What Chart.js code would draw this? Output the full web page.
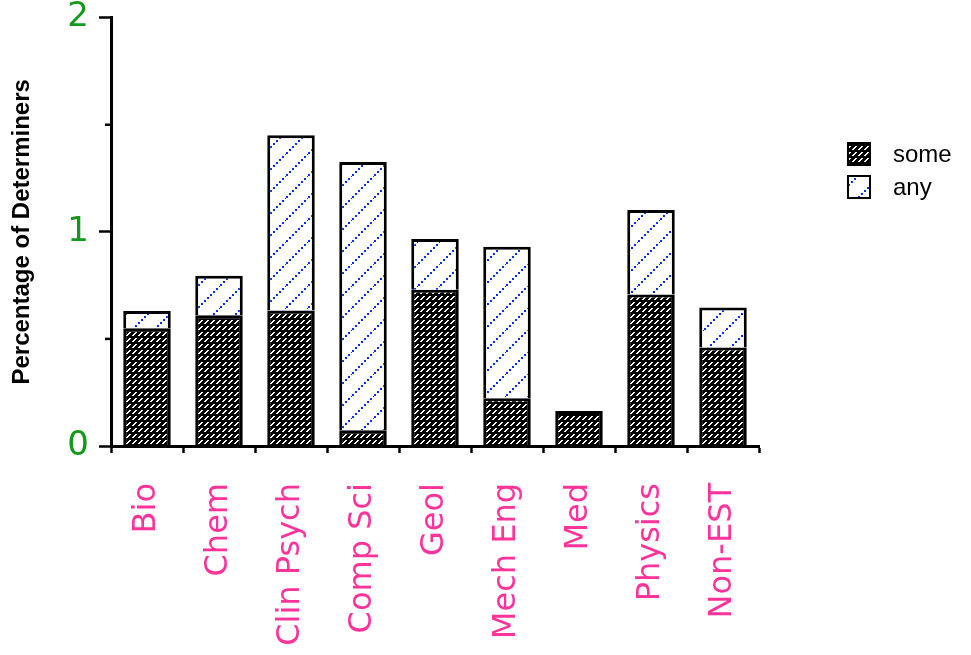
<!DOCTYPE html>
<html lang="en">
<head>
  <meta charset="UTF-8">
  <title>Percentage of Determiners</title>
  <script src="https://cdn.jsdelivr.net/npm/chart.js"></script>
  <style>
    html, body { margin: 0; padding: 0; background: #fff; }
    #wrap { width: 971px; height: 655px; }
  </style>
</head>
<body>
  <div id="wrap"><canvas id="detChart" width="971" height="655"></canvas></div>

  <script>
    // data
    const fields = ['Bio', 'Chem', 'Clin Psych', 'Comp Sci', 'Geol', 'Mech Eng', 'Med', 'Physics', 'Non-EST'];
    const someValues = [0.55, 0.61, 0.633, 0.074, 0.73, 0.223, 0.163, 0.707, 0.46];
    const anyValues = [0.08, 0.185, 0.818, 1.252, 0.237, 0.707, 0, 0.395, 0.187];
    const yTickLabels = ['0', '1', '2'];

    // hatch fills
    function somePattern() {
      const c = document.createElement('canvas');
      c.width = 6; c.height = 6;
      const g = c.getContext('2d');
      g.fillStyle = '#000';
      g.fillRect(0, 0, 6, 6);
      g.fillStyle = '#fff';
      g.fillRect(0, 5, 2, 1);
      g.fillRect(1, 4, 2, 1);
      g.fillRect(2, 3, 2, 1);
      g.fillRect(3, 2, 2, 1);
      return g.createPattern(c, 'repeat');
    }
    function anyPattern() {
      const n = 22;
      const c = document.createElement('canvas');
      c.width = n; c.height = n;
      const g = c.getContext('2d');
      g.fillStyle = '#fff';
      g.fillRect(0, 0, n, n);
      g.fillStyle = '#0a2ef0';
      for (let i = 0; i < n; i += 3) {
        g.fillRect(i, n - 2 - i, 2, 2);
      }
      return g.createPattern(c, 'repeat');
    }

    // minor ticks at the half values, and the legend at the right
    const extras = {
      id: 'extras',
      afterDraw(chart) {
        const ctx = chart.ctx;
        const y = chart.scales.y;
        ctx.save();
        ctx.strokeStyle = '#000';
        ctx.lineWidth = 2.5;
        [0.5, 1.5].forEach(v => {
          const py = y.getPixelForValue(v);
          ctx.beginPath();
          ctx.moveTo(y.right - 6, py);
          ctx.lineTo(y.right, py);
          ctx.stroke();
        });
        chart.data.datasets.forEach((ds, i) => {
          const bx = 848, by = 143 + i * 33;
          ctx.fillStyle = ds.backgroundColor;
          ctx.fillRect(bx, by, 22, 22);
          ctx.lineWidth = 2;
          ctx.strokeRect(bx, by, 22, 22);
          ctx.fillStyle = '#000';
          ctx.font = '24px "Liberation Sans", Arial, sans-serif';
          ctx.textBaseline = 'middle';
          ctx.fillText(ds.label, 893, by + 12);
        });
        ctx.restore();
      }
    };

    const ctx = document.getElementById('detChart').getContext('2d');
    new Chart(ctx, {
      type: 'bar',
      data: {
        labels: fields,
        datasets: [{
          label: 'some',
          data: someValues,
          backgroundColor: somePattern(),
          borderColor: '#000',
          borderWidth: 3
        }, {
          label: 'any',
          data: anyValues,
          backgroundColor: anyPattern(),
          borderColor: '#000',
          borderWidth: 3
        }]
      },
      options: {
        responsive: false,
        animation: false,
        events: [],
        categoryPercentage: 1,
        barPercentage: 0.66,
        layout: { padding: { top: 16, right: 212, bottom: 0, left: 0 } },
        plugins: {
          legend: { display: false },
          tooltip: { enabled: false }
        },
        scales: {
          x: {
            stacked: true,
            afterFit: s => { s.height = 209; },
            grid: {
              drawOnChartArea: false,
              offset: true,
              tickLength: 7,
              tickColor: '#000',
              tickWidth: 2.5
            },
            border: { color: '#000', width: 3 },
            ticks: {
              minRotation: 90,
              maxRotation: 90,
              padding: 30,
              color: '#ff3399',
              font: { family: '"DejaVu Sans", sans-serif', size: 32 }
            }
          },
          y: {
            stacked: true,
            min: 0,
            max: 2,
            afterFit: s => { s.width = 111; },
            grid: {
              drawOnChartArea: false,
              tickLength: 12,
              tickWidth: 2.5,
              tickColor: c => (c.tick && c.tick.value % 1 === 0) ? '#000' : 'rgba(0,0,0,0)'
            },
            border: { color: '#000', width: 3 },
            ticks: {
              stepSize: 0.5,
              padding: 10,
              color: '#119a1a',
              font: { family: '"DejaVu Sans", sans-serif', size: 34, lineHeight: 0.45 },
              callback: v => (v % 1 === 0) ? yTickLabels[v] : ''
            },
            title: {
              display: true,
              text: 'Percentage of Determiners',
              color: '#000',
              padding: { top: 8, bottom: 0 },
              font: { family: '"Liberation Sans", Arial, sans-serif', size: 24, weight: 'bold' }
            }
          }
        }
      },
      plugins: [extras]
    });
  </script>
</body>
</html>
